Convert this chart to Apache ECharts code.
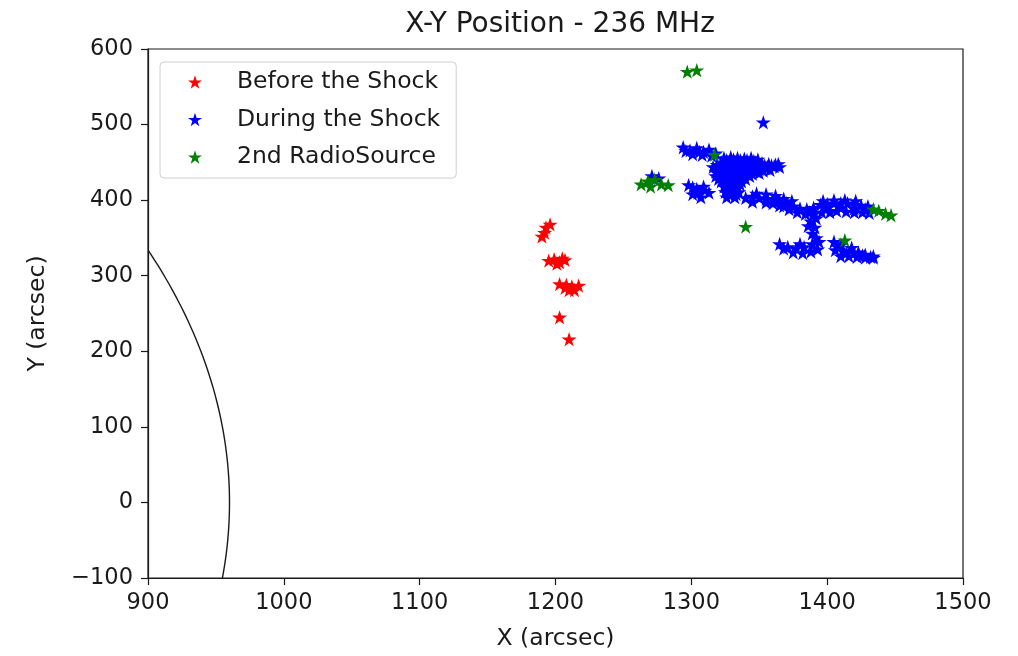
<!DOCTYPE html>
<html>
<head>
<meta charset="utf-8">
<script src="https://cdn.jsdelivr.net/npm/echarts@6/dist/echarts.min.js"></script>
<style>
  html, body { margin: 0; padding: 0; background: #fff; }
  #chart { width: 1018px; height: 656px; }
</style>
</head>
<body>
<div id="chart"></div>
<script>
// Source positions in arcsec, [x, y]
const beforeShock = [
  [1190, 352], [1193, 364], [1196, 368], [1192, 357],
  [1195, 320], [1199, 322], [1203, 318], [1207, 321], [1201, 316], [1205, 323],
  [1203, 289], [1207, 284], [1210, 281], [1214, 281], [1217, 287], [1212, 286], [1208, 288],
  [1203, 245], [1210, 216]
];

const duringShock = [
  [1353, 503],
  // upper-left row
  [1294, 470], [1299, 466], [1304, 469], [1309, 464], [1313, 467], [1318, 462], [1301, 461], [1308, 460],
  [1296, 465], [1306, 464], [1315, 459],
  // main cluster
  [1324, 456], [1329, 457], [1334, 456], [1339, 455], [1344, 456], [1349, 454],
  [1322, 450], [1327, 450], [1332, 451], [1337, 450], [1342, 450], [1347, 450], [1352, 449], [1357, 448], [1362, 447],
  [1316, 444], [1321, 444], [1326, 444], [1331, 445], [1336, 444], [1341, 444], [1346, 444], [1351, 444], [1356, 444], [1361, 445], [1365, 444],
  [1318, 438], [1323, 438], [1328, 438], [1333, 438], [1338, 438], [1343, 438], [1348, 438], [1353, 439], [1358, 440],
  [1318, 432], [1323, 432], [1328, 432], [1333, 432], [1338, 432], [1343, 432],
  [1322, 425], [1327, 425], [1332, 425], [1337, 425],
  [1324, 418], [1329, 418], [1334, 418],
  [1325, 411], [1330, 411], [1335, 411],
  [1326, 404], [1332, 404],
  [1326, 453], [1331, 454], [1336, 453], [1341, 453], [1346, 452], [1354, 446], [1359, 446], [1364, 448],
  [1319, 447], [1324, 447], [1329, 447], [1334, 447], [1339, 447], [1344, 447], [1349, 447],
  [1320, 441], [1325, 441], [1330, 441], [1335, 441], [1340, 441], [1345, 441], [1350, 441], [1355, 442],
  [1320, 435], [1325, 435], [1330, 435], [1335, 435], [1340, 435], [1345, 435], [1350, 436],
  [1320, 428], [1325, 428], [1330, 428], [1335, 428], [1340, 428],
  [1326, 421], [1331, 421], [1336, 421], [1327, 414], [1332, 414], [1328, 407], [1333, 408],
  // small group to the left
  [1298, 420], [1304, 415], [1309, 418], [1301, 408], [1307, 404], [1313, 410],
  [1301, 417], [1305, 410], [1310, 413],
  [1271, 432], [1276, 429],
  // long band towards the east
  [1340, 403], [1345, 405], [1350, 403], [1355, 402], [1360, 401], [1365, 399], [1370, 396], [1375, 392], [1380, 389],
  [1385, 388], [1390, 390], [1395, 394], [1400, 395], [1405, 396], [1410, 396], [1415, 396], [1420, 394], [1425, 393], [1430, 392],
  [1345, 398], [1355, 397], [1365, 393], [1372, 388], [1378, 384], [1384, 382], [1390, 382], [1396, 384], [1402, 384],
  [1407, 386], [1414, 385], [1420, 384], [1426, 384], [1431, 383],
  [1348, 409], [1355, 408], [1362, 406], [1368, 402], [1374, 399], [1397, 399], [1405, 400], [1413, 400], [1421, 399],
  [1360, 396], [1368, 392], [1387, 384], [1400, 390], [1410, 390], [1420, 389], [1428, 388],
  // link down to the southern group
  [1388, 372], [1391, 364], [1389, 356], [1392, 350], [1386, 366], [1392, 376],
  [1365, 342], [1371, 338], [1377, 336], [1383, 338], [1389, 342], [1394, 345], [1375, 331], [1382, 330], [1388, 332], [1393, 335],
  [1368, 336], [1380, 342],
  // southeast group
  [1405, 345], [1410, 341], [1406, 334], [1412, 333], [1418, 337], [1423, 331], [1428, 328], [1434, 326],
  [1410, 326], [1416, 326], [1422, 325], [1428, 324], [1434, 324],
  [1408, 338], [1414, 330], [1420, 330], [1426, 327], [1432, 325]
];

const secondSource = [
  [1297, 570], [1304, 572],
  [1317, 460],
  [1263, 421], [1268, 425], [1273, 427], [1278, 421], [1283, 420], [1270, 418],
  [1340, 365],
  [1413, 347],
  [1434, 388], [1438, 386], [1443, 382], [1447, 380]
];

// Solar limb: centre and radius in arcsec
const limb = [[0, 0, 960]];

const xTicks = [900, 1500, 100];
const yTicks = [-100, 600, 100];

const starPath = 'path://M100,0L122.45,69.1L195.1,69.1L136.3,111.8L158.8,180.9L100,138.2L41.2,180.9L63.7,111.8L4.9,69.1L77.55,69.1Z';
const FONT = 'DejaVu Sans';
const INK = '#1a1a1a';

function starSeries(name, color, data) {
  return {
    name: name,
    type: 'scatter',
    data: data,
    symbol: starPath,
    symbolKeepAspect: true,
    symbolSize: 15,
    itemStyle: { color: color, opacity: 1 },
    emphasis: { disabled: true },
    z: 3
  };
}

const chart = echarts.init(document.getElementById('chart'), null, { renderer: 'canvas' });

chart.setOption({
  animation: false,
  backgroundColor: '#fff',
  textStyle: { fontFamily: FONT },
  title: {
    text: 'X-Y Position - 236 MHz',
    left: 555, top: 6,
    textAlign: 'center',
    textStyle: { fontFamily: FONT, fontSize: 28, fontWeight: 'normal', color: INK }
  },
  grid: {
    left: 148, right: 55, top: 49, bottom: 78,
    show: true, borderColor: INK, borderWidth: 1.2, backgroundColor: 'transparent'
  },
  legend: {
    orient: 'vertical',
    left: 160, top: 62,
    padding: [6, 16, 7, 28],
    backgroundColor: '#fff',
    borderColor: '#d0d0d0',
    borderWidth: 1,
    borderRadius: 4,
    itemWidth: 14, itemHeight: 14,
    itemGap: 9.5,
    icon: starPath,
    textStyle: { fontFamily: FONT, fontSize: 23.5, color: INK, lineHeight: 28, padding: [0, 0, 0, 30] },
    data: ['Before the Shock', 'During the Shock', '2nd RadioSource']
  },
  xAxis: {
    type: 'value',
    min: xTicks[0], max: xTicks[1], interval: xTicks[2],
    name: 'X (arcsec)', nameLocation: 'middle', nameGap: 49,
    nameTextStyle: { fontFamily: FONT, fontSize: 23.5, color: INK },
    axisLine: { show: true, onZero: false, lineStyle: { color: INK, width: 1.2 } },
    axisTick: { show: true, length: 7, lineStyle: { color: INK, width: 1.2 } },
    axisLabel: { fontFamily: FONT, fontSize: 22.5, color: INK, margin: 14, formatter: v => String(v) },
    splitLine: { show: false }
  },
  yAxis: {
    type: 'value',
    min: yTicks[0], max: yTicks[1], interval: yTicks[2],
    name: 'Y (arcsec)', nameLocation: 'middle', nameGap: 98,
    nameTextStyle: { fontFamily: FONT, fontSize: 23.5, color: INK },
    axisLine: { show: true, onZero: false, lineStyle: { color: INK, width: 1.2 } },
    axisTick: { show: true, length: 7, lineStyle: { color: INK, width: 1.2 } },
    axisLabel: {
      fontFamily: FONT, fontSize: 22.5, color: INK, margin: 15,
      formatter: v => String(v).replace('-', '\u2212')
    },
    splitLine: { show: false }
  },
  series: [
    {
      name: 'limb',
      type: 'custom',
      data: limb,
      silent: true,
      z: 2,
      renderItem: function (params, api) {
        const cx = api.value(0), cy = api.value(1), r = api.value(2);
        const pts = [];
        for (let i = 0; i <= 720; i++) {
          const t = (i / 720) * Math.PI * 2;
          pts.push(api.coord([cx + r * Math.cos(t), cy + r * Math.sin(t)]));
        }
        const cs = params.coordSys;
        return {
          type: 'group',
          children: [{
            type: 'polyline',
            shape: { points: pts },
            style: { stroke: INK, lineWidth: 1.4, fill: null }
          }],
          clipPath: { type: 'rect', shape: { x: cs.x, y: cs.y, width: cs.width, height: cs.height } }
        };
      }
    },
    starSeries('Before the Shock', '#ff0000', beforeShock),
    starSeries('During the Shock', '#0000ff', duringShock),
    starSeries('2nd RadioSource', '#008000', secondSource)
  ]
});
</script>
</body>
</html>
